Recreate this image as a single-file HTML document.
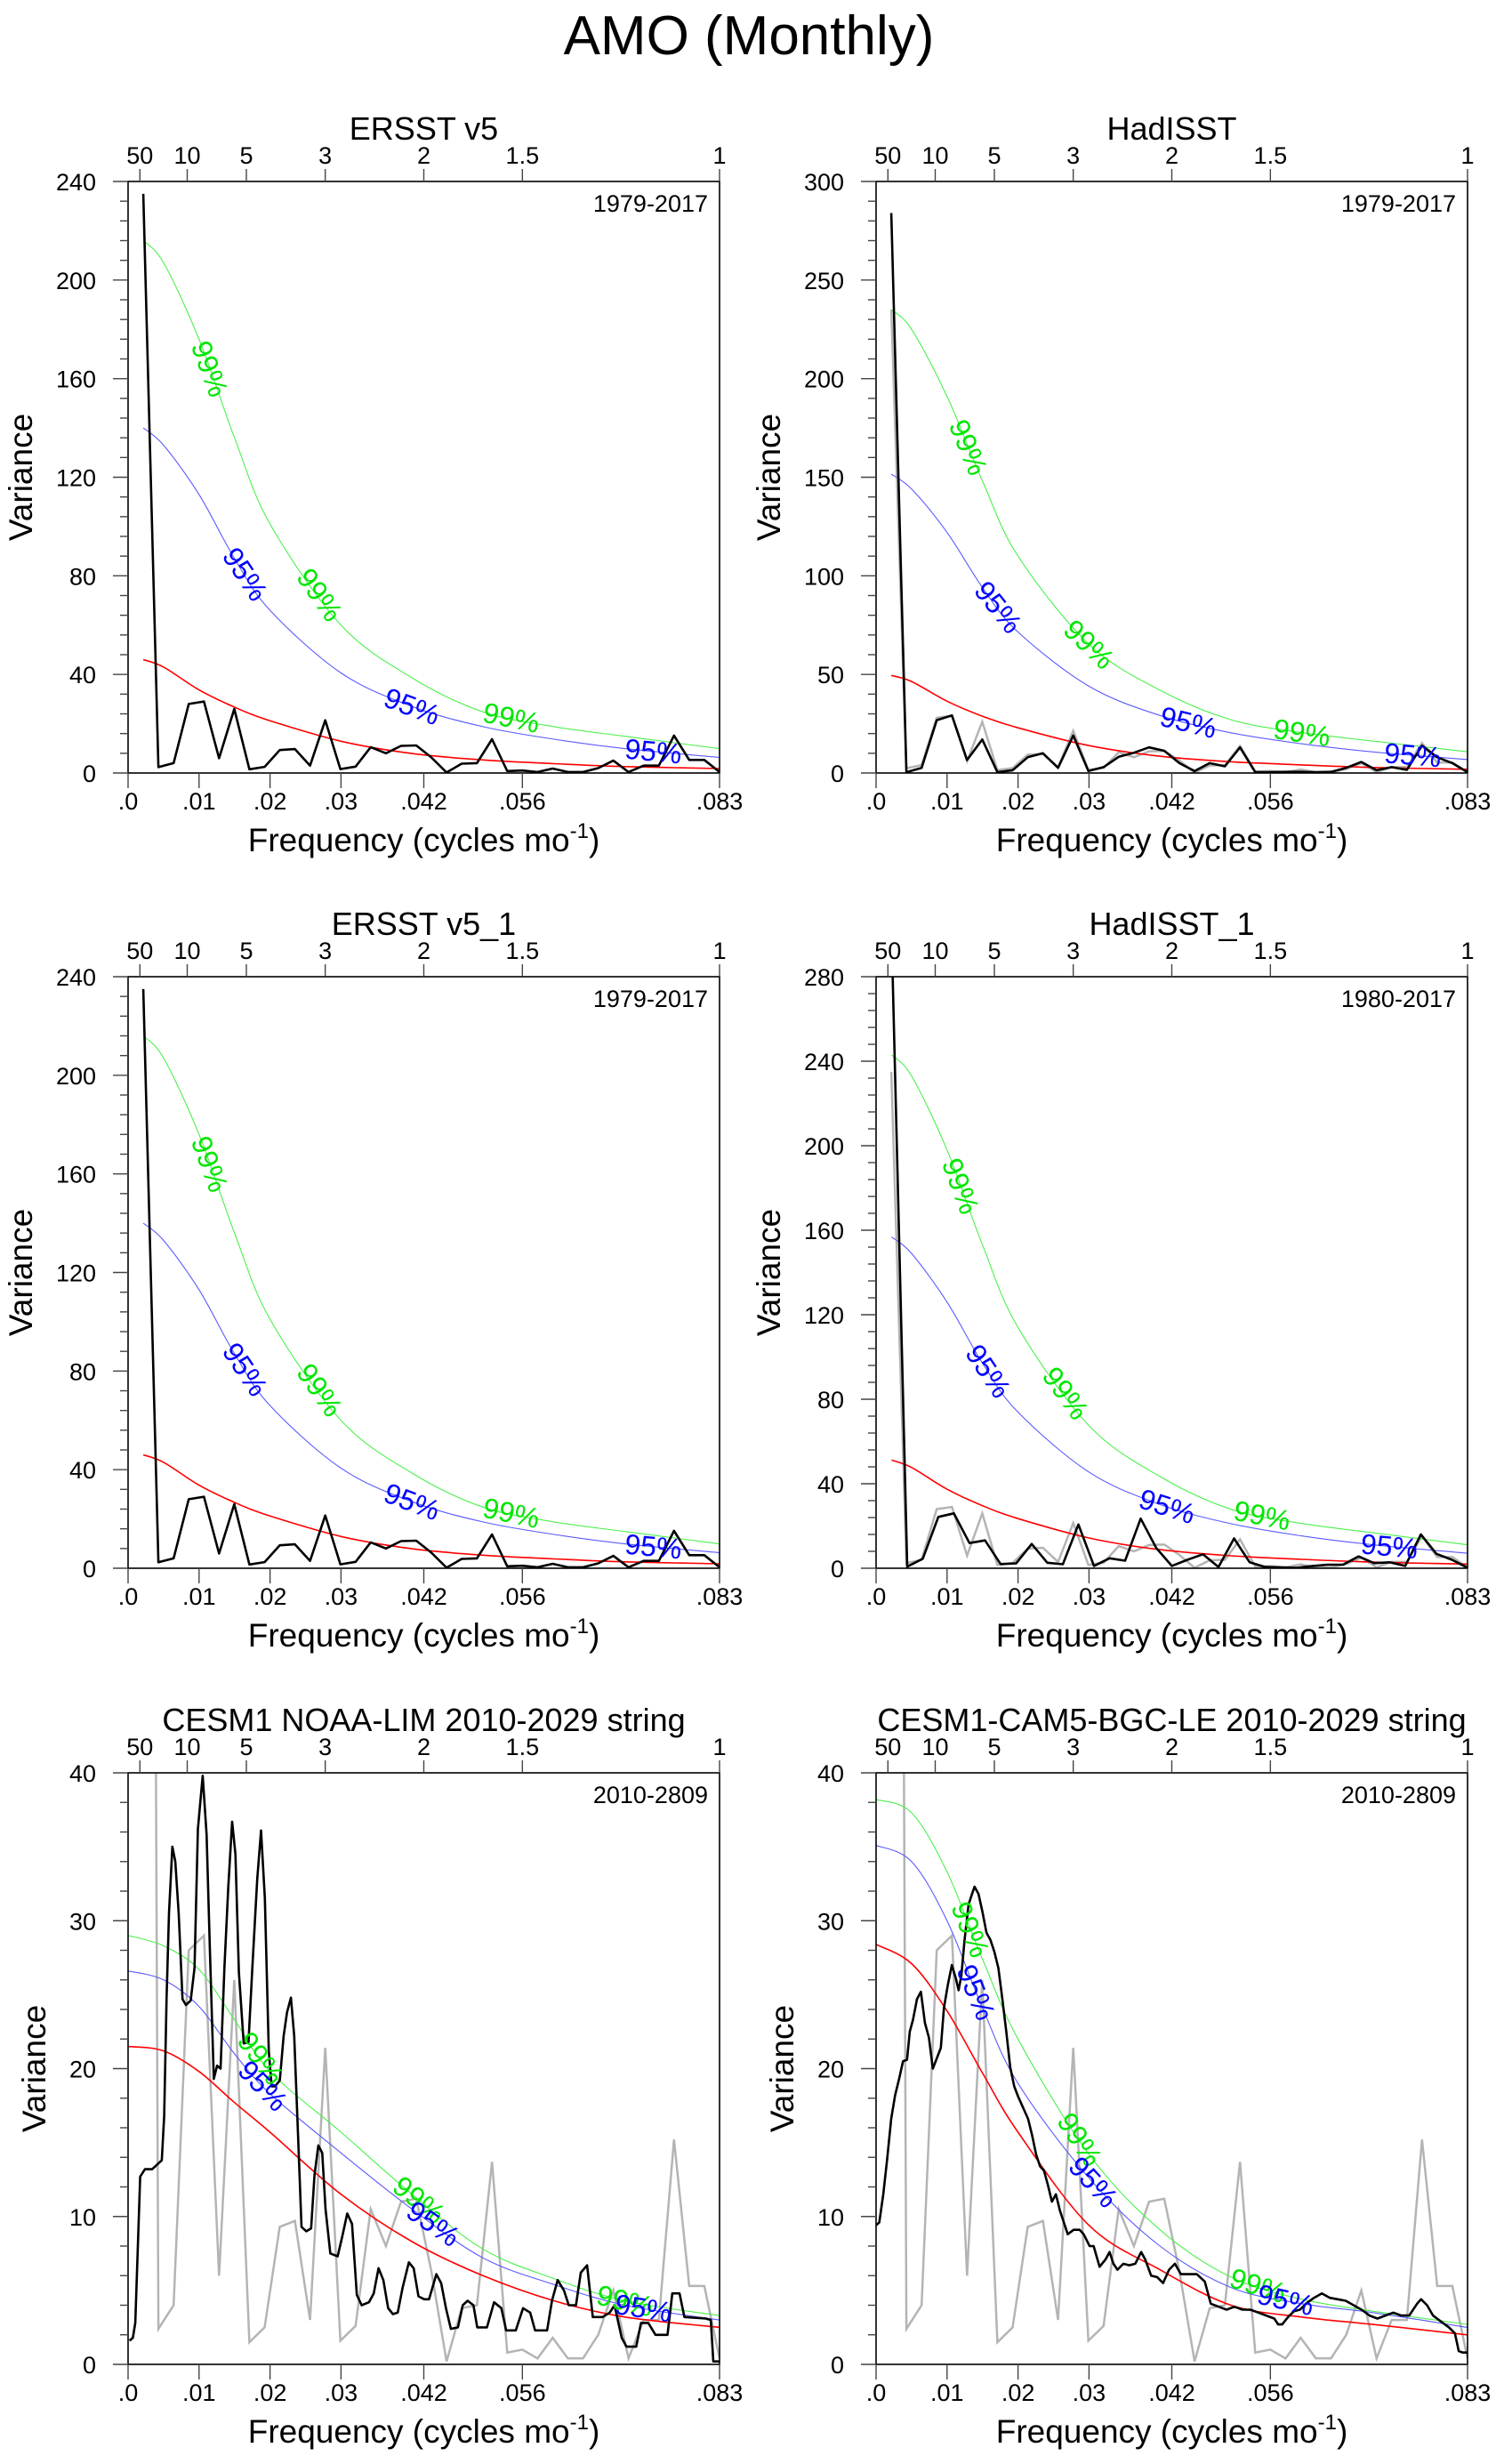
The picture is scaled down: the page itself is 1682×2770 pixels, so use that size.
<!DOCTYPE html>
<html><head><meta charset="utf-8"><title>AMO (Monthly)</title>
<style>
html,body{margin:0;padding:0;background:#fff;}
svg{display:block;font-family:"Liberation Sans",Arial,sans-serif;}
</style></head>
<body>
<svg id="fig" xmlns="http://www.w3.org/2000/svg" width="1682" height="2770" viewBox="0 0 1682 2770">
<rect x="0" y="0" width="1682" height="2770" fill="#fff"/>
<text x="842" y="61" font-size="62" text-anchor="middle">AMO (Monthly)</text>
</svg>
<script>
// ---------- data ----------
const ersstVals=[235,2.4,4,28,29,6,26,1.5,2.5,9.3,9.7,3,21.4,1.6,2.6,10.5,8,11,11.2,6.3,0.2,3.8,4,13.7,0.8,1,0.4,1.8,0.4,0.4,2,5,0.4,3,3,15.2,5.3,5.3,0.4];
const hadVals=[284,0.4,2.6,26.8,29.2,6.6,17,0.4,1.4,8,10,2.6,19,1,3,8.2,10.3,13,11.3,5,1,5,3.4,13,0.4,0.4,0.6,0.6,0.4,0.6,2.6,5.6,1.4,3,1.6,13.9,8,5,0.4];
const had1Vals=[300,0.75,4.5,24.3,26,11.9,13.2,2,2.3,11.5,2.6,1.9,20.7,1.1,4.7,3.6,23.5,9.6,1.1,4,6.6,0.6,14.1,2.8,0.6,0.4,0.2,1,1.7,1.7,5.6,2.4,2.8,1.1,16,6.8,4,0.2];
const ersstMonths=468;
const had1Months=456;

const limFreqMilli=[0.20,0.68,1.02,1.36,1.70,2.38,3.39,4.07,4.75,5.09,5.43,5.77,6.24,6.65,7.13,7.67,8.14,8.82,9.36,9.84,10.52,11.06,11.54,12.08,12.55,13.03,13.57,14.11,14.66,15.13,15.61,16.29,16.97,17.51,18.19,18.73,19.27,19.82,20.22,20.70,21.38,21.92,22.39,22.94,23.41,23.95,24.43,25.11,25.79,26.26,26.80,27.35,27.82,28.50,29.52,30.20,30.88,31.55,32.23,32.91,33.93,34.61,35.29,35.97,36.64,37.32,38.00,38.68,39.56,40.24,40.92,41.73,42.41,43.43,44.11,44.79,45.47,46.48,47.16,47.84,48.66,49.20,50.56,51.57,52.59,53.27,54.63,55.65,56.66,57.34,59.04,59.72,60.53,61.41,62.09,63.11,63.79,64.67,65.48,66.84,67.86,68.53,69.55,70.23,71.59,72.27,73.29,74.31,76.00,76.68,77.70,78.38,81.43,82.11,82.45,83.33];
const limVals=[1.6,1.8,2.8,7.8,12.7,13.2,13.2,13.5,13.8,16.8,24.8,30.5,35,34,30.5,24.7,24.3,24.6,26.8,36.2,39.8,35.8,27.8,19.3,20.2,20,26.8,32.2,36.7,34.5,26.5,21.7,21.8,26.8,32.8,36.1,31.5,21.2,18.8,18.8,19.2,22.2,23.8,24.8,22.2,15.5,9.3,9,9.2,12.8,14.8,14.3,10.5,7.5,7.3,8.7,10.2,9.5,4.7,4,4.2,4.8,6.5,5.7,3.8,3.4,3.5,5.2,6.9,6.5,4.6,4.4,4.4,6.1,5.5,3.8,2.4,2.5,4,4.3,4,2.5,2.5,4.2,3.8,2.3,2.3,3.8,3.5,2.3,2.3,4.3,5.7,5,4,4,6.2,6.7,3.2,3.2,3.5,4,1.8,1.2,1.2,2.8,2.8,2,2,4.8,4.8,3.2,3.1,3,0.2,0.2];

const bgcFreqMilli=[0,0.45,1.01,1.57,2.13,2.68,3.24,3.80,4.36,4.75,5.20,5.76,6.32,6.88,7.44,8.00,8.56,9.12,9.56,10.12,10.68,11.24,11.63,12.02,12.47,13.03,13.59,13.87,14.43,14.99,15.55,16.11,16.67,17.23,17.79,18.35,18.90,19.46,20.02,20.86,21.42,21.98,22.54,23.10,23.66,24.22,24.78,25.34,25.90,26.45,27.01,27.85,28.69,29.25,30.09,30.65,31.49,32.33,32.89,33.45,34.01,34.84,35.68,36.52,37.36,37.92,38.76,39.60,40.44,41.28,42.11,42.95,44.07,45.19,46.31,47.15,48.27,49.39,50.50,51.62,52.74,53.86,54.98,56.10,56.66,57.22,58.05,58.89,59.73,60.57,61.69,62.81,63.93,65.04,66.16,67.28,68.40,69.52,70.64,71.76,72.88,74.00,75.11,76.23,76.79,77.63,78.47,79.59,80.71,81.55,82.09,82.65,83.33];
const bgcVals=[9.4,9.6,11.5,13.9,16.6,18.2,19.3,20.5,20.6,22.5,23.3,24.7,25.2,23.1,22.1,20,20.7,21.4,24.1,25.7,27,26.1,25.3,26.3,28.7,31.1,31.9,32.3,31.8,30.6,29.2,28.7,27.9,26.8,24.7,22.5,20.1,18.8,18.1,17.2,16.6,15.5,14.2,13.4,13.1,12.1,11,11.5,10.4,9.6,8.8,9.1,9.1,8.8,8,8,6.6,7.1,7.6,6.8,6.4,6.8,6.7,6.8,7.6,7.1,6,5.9,5.5,6.4,6.8,6.1,6.1,6.1,5.6,4.1,3.9,3.7,3.9,3.7,3.7,3.5,3.3,3.1,2.7,2.7,3.2,3.6,3.7,4.1,4.5,4.8,4.5,4.4,4.3,4,3.7,3.3,3.1,3.3,3.5,3.3,3.3,4.1,4.4,4,3.3,2.9,2.5,2.1,0.9,0.8,0.8];

// red-noise & significance curves sampled at these frequencies
const curveFreqObs=[0.00214,0.005,0.01,0.015,0.02,0.03,0.04,0.05,0.06,0.07,0.0833];
const curveFreqHad1=[0.00219,0.005,0.01,0.015,0.02,0.03,0.04,0.05,0.06,0.07,0.0833];
const curveFreqModel=[0,0.005,0.01,0.015,0.02,0.03,0.04,0.05,0.06,0.07,0.0833];
const red1=[46,43,33.7,26.7,21.2,12.9,7.9,5.3,3.8,2.6,1.8];
const blue1=[140,133,113,87,66,40.6,27,18.8,13.7,9.9,6.3];
const green1=[216,207,176,136,101,60,38.6,24.8,18.8,14.9,9.9];
const red2=[49.5,46.4,36.4,28.8,22.9,13.9,8.5,5.7,4.1,2.8,1.9];
const blue2=[151.6,144,122,94,71.5,44,29.2,20.4,14.8,10.7,6.8];
const green2=[235,225,191,148,110,65.3,42,27,20.5,16.2,10.8];
const red4=[51.2,47.7,37.4,29.6,23.5,14.3,8.8,5.9,4.2,2.9,2.0];
const blue4=[156.8,149,126,97,73.9,45.5,30.2,21.1,15.3,11.1,7.1];
const green4=[243,233,198,153,114,67.5,43.4,27.9,21.2,16.8,11.1];
const red5=[21.5,21.2,19.8,17.7,15.7,11.5,8.3,6,4.3,3.2,2.5];
const blue5=[26.6,26,24.2,21,18.3,14.3,10.5,7.2,5.4,4,3];
const green5=[29,28.3,26.7,23.3,19.8,15.7,11.5,7.8,5.8,4.3,3.3];
const red6=[28.4,27.1,23.9,19.7,15.7,9.4,6.4,4,3.2,2.7,2.0];
const blue6=[35.1,34,30,24.1,19,12.6,8,5.2,4.1,3.5,2.5];
const green6=[38.2,37.3,33.3,27.4,22,14.2,9.1,5.9,4.4,3.6,2.7];

const bottomTickVals=[0,0.01,0.02,0.03,1/24,1/18,1/12];
const bottomTickLabels=[".0",".01",".02",".03",".042",".056",".083"];
const periodYears=[50,10,5,3,2,1.5,1];
const periodLabels=["50","10","5","3","2","1.5","1"];

// ---------- drawing ----------
const NS="http://www.w3.org/2000/svg";
const svg=document.getElementById('fig');
const SZ=665, FMAX=1/12;
function mk(tag,parent,attrs){const e=document.createElementNS(NS,tag);for(const k in attrs)e.setAttribute(k,attrs[k]);parent.appendChild(e);return e;}
function idxFreq(n,months){const a=[];for(let k=1;k<=n;k++)a.push(k/months);return a;}
function milli(a){return a.map(v=>v/1000);}

function smoothPath(pts){
  let d="M"+pts[0][0].toFixed(1)+","+pts[0][1].toFixed(1);
  for(let i=0;i<pts.length-1;i++){
    const p0=pts[Math.max(0,i-1)],p1=pts[i],p2=pts[i+1],p3=pts[Math.min(pts.length-1,i+2)];
    const c1=[p1[0]+(p2[0]-p0[0])/6,p1[1]+(p2[1]-p0[1])/6];
    const c2=[p2[0]-(p3[0]-p1[0])/6,p2[1]-(p3[1]-p1[1])/6];
    d+=" C"+c1[0].toFixed(1)+","+c1[1].toFixed(1)+" "+c2[0].toFixed(1)+","+c2[1].toFixed(1)+" "+p2[0].toFixed(1)+","+p2[1].toFixed(1);
  }
  return d;
}
function interp(xs,ys,x){
  for(let i=0;i<xs.length-1;i++){if(x>=xs[i]&&x<=xs[i+1]){const t=(x-xs[i])/(xs[i+1]-xs[i]);return ys[i]+t*(ys[i+1]-ys[i]);}}
  return x<xs[0]?ys[0]:ys[ys.length-1];
}

const panels=[
 {name:"ersst-v5",L:144,T:204,title:"ERSST v5",yrs:"1979-2017",ymax:240,major:40,minor:8,bf:idxFreq(ersstVals.length,ersstMonths),bv:ersstVals,gray:null,cf:curveFreqObs,red:red1,blue:blue1,green:green1,gl:[0.0115,0.027,0.054],bl:[0.0165,0.040,0.074],yt:-121},
 {name:"hadisst",L:985,T:204,title:"HadISST",yrs:"1979-2017",ymax:300,major:50,minor:10,bf:idxFreq(hadVals.length,ersstMonths),bv:hadVals,gray:true,cf:curveFreqObs,red:red2,blue:blue2,green:green2,gl:[0.013,0.030,0.060],bl:[0.0172,0.044,0.0756],yt:-121},
 {name:"ersst-v5-1",L:144,T:1098,title:"ERSST v5_1",yrs:"1979-2017",ymax:240,major:40,minor:8,bf:idxFreq(ersstVals.length,ersstMonths),bv:ersstVals,gray:null,cf:curveFreqObs,red:red1,blue:blue1,green:green1,gl:[0.0115,0.027,0.054],bl:[0.0165,0.040,0.074],yt:-121},
 {name:"hadisst-1",L:985,T:1098,title:"HadISST_1",yrs:"1980-2017",ymax:280,major:40,minor:8,bf:idxFreq(had1Vals.length,had1Months),bv:had1Vals,gray:true,cf:curveFreqHad1,red:red4,blue:blue4,green:green4,gl:[0.0119,0.0267,0.0544],bl:[0.0158,0.041,0.0723],yt:-121},
 {name:"cesm1-noaa-lim",L:144,T:1993,title:"CESM1 NOAA-LIM 2010-2029 string",yrs:"2010-2809",ymax:40,major:10,minor:2,bf:milli(limFreqMilli),bv:limVals,gray:true,cf:curveFreqModel,red:red5,blue:blue5,green:green5,gl:[0.0187,0.041,0.070],bl:[0.019,0.043,0.0726],yt:-106},
 {name:"cesm1-cam5-bgc-le",L:985,T:1993,title:"CESM1-CAM5-BGC-LE 2010-2029 string",yrs:"2010-2809",ymax:40,major:10,minor:2,bf:milli(bgcFreqMilli),bv:bgcVals,gray:true,cf:curveFreqModel,red:red6,blue:blue6,green:green6,gl:[0.0133,0.0287,0.0538],bl:[0.0141,0.0306,0.0577],yt:-106}
];

panels.forEach((p,pi)=>{
  const L=p.L,T=p.T,B=T+SZ,R=L+SZ;
  const xs=f=>L+f/FMAX*SZ;
  const ys=v=>B-v/p.ymax*SZ;
  const g=mk('g',svg,{});
  
  
  const cp=mk('clipPath',g,{id:'clip'+pi});
  mk('rect',cp,{x:L,y:T,width:SZ,height:SZ});
  const plot=mk('g',g,{'clip-path':'url(#clip'+pi+')'});
  
  

  if(p.gray){
    const gf=idxFreq(ersstVals.length,ersstMonths);
    const pl=mk('polyline',plot,{points:gf.map((f,i)=>xs(f).toFixed(1)+","+ys(ersstVals[i]).toFixed(1)).join(" "),fill:"none",stroke:"#b4b4b4","stroke-width":2.5});
    
    
  }
  const curves=[["red-noise-line",p.red,"#ff0000",1.6],["confidence-95-line",p.blue,"#5a5aff",1.1],["confidence-99-line",p.green,"#4cf04c",1.1]];
  curves.forEach(c=>{
    const pts=p.cf.map((f,i)=>[xs(f),ys(c[1][i])]);
    const path=mk('path',plot,{d:smoothPath(pts),fill:"none",stroke:c[2],"stroke-width":c[3]});
    
    
  });
  const bl=mk('polyline',plot,{points:p.bf.map((f,i)=>xs(f).toFixed(1)+","+ys(p.bv[i]).toFixed(1)).join(" "),fill:"none",stroke:"#000","stroke-width":2.6,"stroke-linejoin":"round"});
  
  

  const labelSets=[[p.gl,p.green,"#00e600","99%"],[p.bl,p.blue,"#0000ff","95%"]];
  labelSets.forEach(ls=>{
    ls[0].forEach(f=>{
      const x=xs(f),y=ys(interp(p.cf,ls[1],f));
      const x1=xs(f-0.002),y1=ys(interp(p.cf,ls[1],f-0.002)),x2=xs(f+0.002),y2=ys(interp(p.cf,ls[1],f+0.002));
      const ang=Math.atan2(y2-y1,x2-x1)*180/Math.PI;
      const t=mk('text',plot,{x:x.toFixed(1),y:(y+11).toFixed(1),"font-size":32,fill:ls[2],"text-anchor":"middle",transform:"rotate("+ang.toFixed(1)+" "+x.toFixed(1)+" "+y.toFixed(1)+")"});
      t.textContent=ls[3];
      
      
    });
  });

  const fr=mk('rect',g,{x:L,y:T,width:SZ,height:SZ,fill:"none",stroke:"#000","stroke-width":1.6});
  
  

  const yax=mk('g',g,{});
  
  
  for(let v=0;v<=p.ymax+1e-9;v+=p.minor){
    const isMaj=Math.abs(v/p.major-Math.round(v/p.major))<1e-6;
    mk('line',yax,{x1:L-(isMaj?17:9),x2:L,y1:ys(v),y2:ys(v),stroke:"#444","stroke-width":1.4});
    if(isMaj){
      const t=mk('text',yax,{x:L-36,y:ys(v)+10,"font-size":27,"text-anchor":"end"});
      t.textContent=String(Math.round(v));
      
      
    }
  }
  const xax=mk('g',g,{});
  
  
  bottomTickVals.forEach((f,i)=>{
    mk('line',xax,{x1:xs(f),x2:xs(f),y1:B,y2:B+17,stroke:"#444","stroke-width":1.4});
    const t=mk('text',xax,{x:xs(f),y:B+41,"font-size":27,"text-anchor":"middle"});
    t.textContent=bottomTickLabels[i];
    
    
  });
  const tax=mk('g',g,{});
  
  
  periodYears.forEach((P,i)=>{
    const f=1/(12*P);
    mk('line',tax,{x1:xs(f),x2:xs(f),y1:T,y2:T-14,stroke:"#444","stroke-width":1.4});
    const t=mk('text',tax,{x:xs(f),y:T-20,"font-size":27,"text-anchor":"middle"});
    t.textContent=periodLabels[i];
    
    
  });
  const tt=mk('text',g,{x:L+SZ/2,y:T-47,"font-size":36,"text-anchor":"middle"});
  tt.textContent=p.title;
  
  
  const yr=mk('text',g,{x:R-13,y:T+34,"font-size":27,"text-anchor":"end"});
  yr.textContent=p.yrs;
  
  
  const xt=mk('text',g,{x:L+SZ/2,y:B+88,"font-size":37,"text-anchor":"middle"});
  
  
  const s1=mk('tspan',xt,{});s1.textContent="Frequency (cycles mo";
  const s2=mk('tspan',xt,{"font-size":24,dy:-15});s2.textContent="-1";
  const s3=mk('tspan',xt,{dy:15});s3.textContent=")";
  const yx=L+p.yt, yy=T+SZ/2;
  const yt=mk('text',g,{x:yx,y:yy+13,"font-size":37,"text-anchor":"middle",transform:"rotate(-90 "+yx+" "+yy+")"});
  yt.textContent="Variance";
  
  
});
</script>
</body></html>
